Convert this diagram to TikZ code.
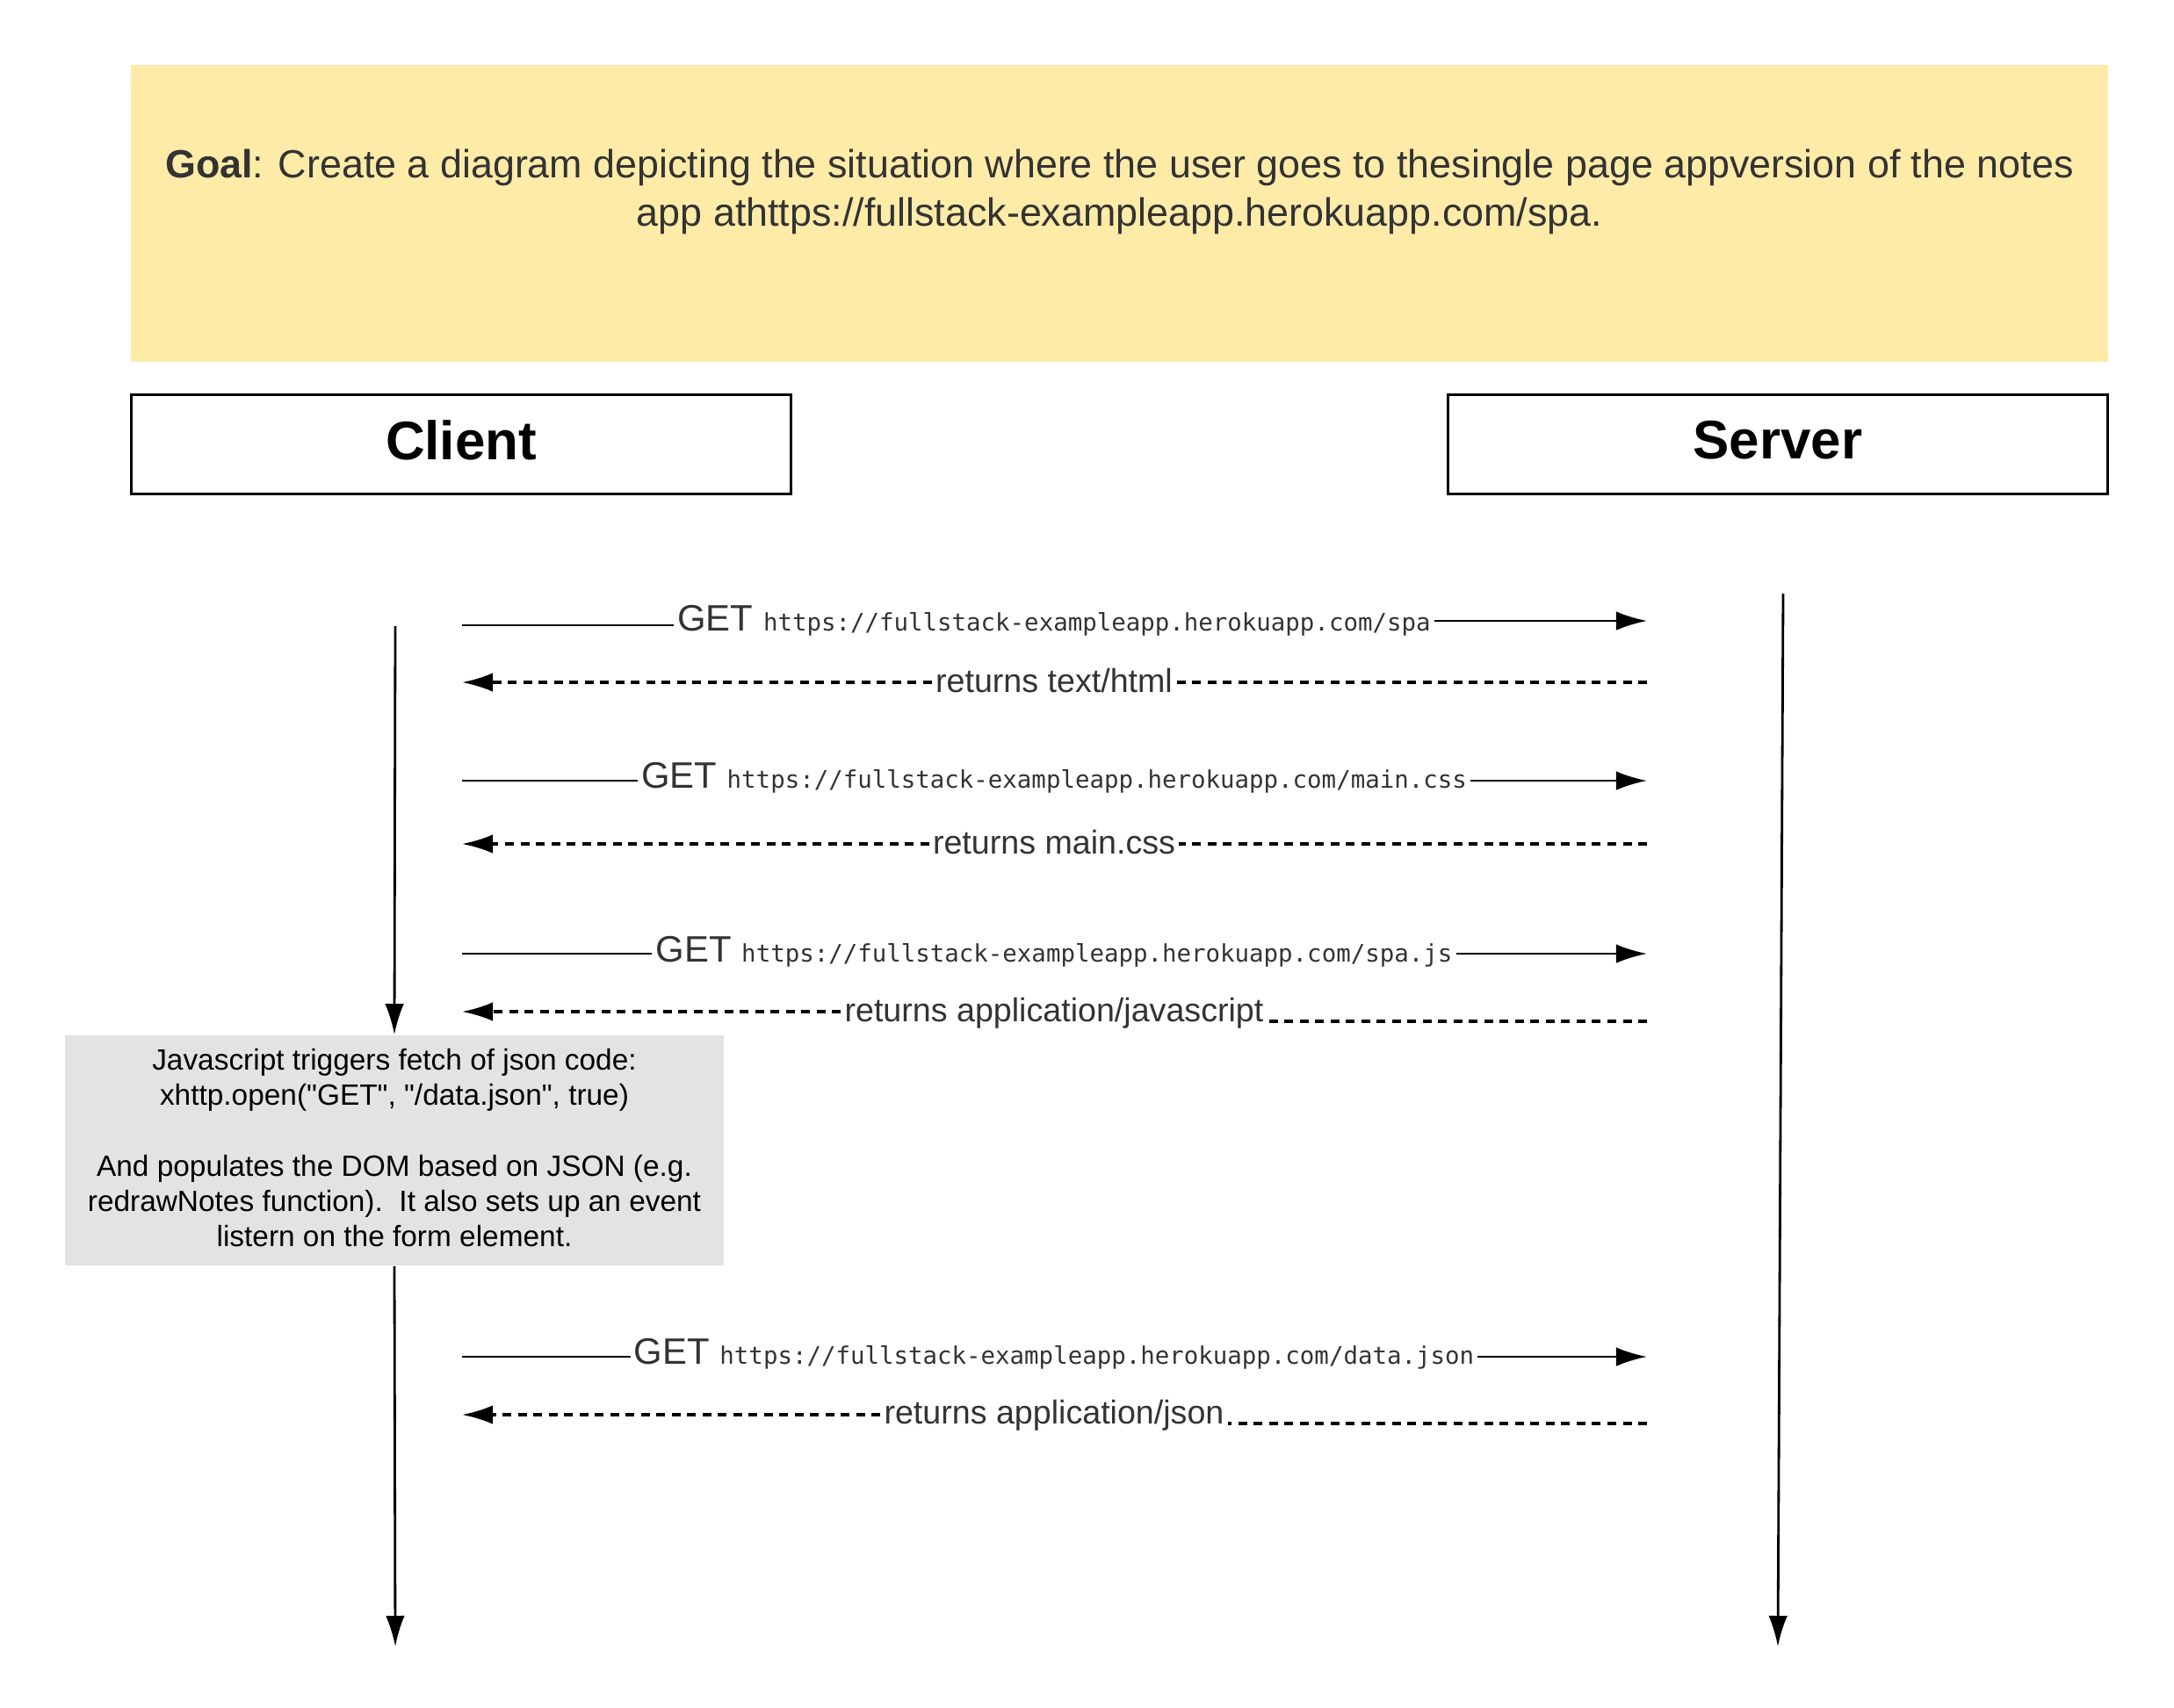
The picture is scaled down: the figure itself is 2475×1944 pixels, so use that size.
\documentclass[tikz,border=0pt]{standalone}
\usepackage{fontspec}
\setmainfont{Liberation Sans}
\newfontfamily\notefont{Liberation Sans}
\newfontfamily\urlfont{DejaVu Sans Mono}
\usetikzlibrary{arrows.meta}
\definecolor{goalyellow}{HTML}{FFEBA8}
\definecolor{notegray}{HTML}{E3E3E3}
\definecolor{txtgray}{HTML}{333333}
\newcommand{\myurl}[1]{{\urlfont\fontsize{7.8}{9}\selectfont #1}}
\begin{document}
\begin{tikzpicture}[x=0.01cm,y=-0.01cm,
  lane/.style={draw, line width=0.85pt, minimum width=7.5cm, minimum height=1.12cm, inner sep=0pt},
  lanetext/.style={inner sep=0pt, font=\fontsize{17.6}{20}\selectfont\bfseries},
  lbl/.style={text=txtgray, inner sep=1pt, font=\fontsize{11.9}{14}\selectfont},
  retlbl/.style={text=txtgray, inner sep=1pt, font=\fontsize{10.7}{13}\selectfont},
  req/.style={line width=0.8pt},
  ret/.style={line width=0.92pt, dash pattern=on 0.1cm off 0.075cm},
  headend/.style={-{Latex[length=0.35cm,width=0.215cm]}},
]
\useasboundingbox (0,0) rectangle (2475,1944);
\fill[white] (0,0) rectangle (2475,1944);

% goal box
\node[fill=goalyellow, minimum width=22.49cm, minimum height=3.38cm, inner sep=0pt] (goalbox) at (1274.5,243) {};
\node[text=txtgray, align=center, font=\fontsize{12.75}{15.6}\selectfont] (goal) at (1274.5,218)
  {\textbf{Goal}: Create a diagram depicting the situation where the user goes to thesingle page appversion of the notes\\ app athttps://fullstack-exampleapp.herokuapp.com/spa.};

% lanes
\node[lane] (client) at (525,506) {};
\node[lanetext] (clienttext) at (525,501) {Client};
\node[lane] (server) at (2024,506) {};
\node[lanetext] (servertext) at (2024,501) {Server};

% note
\node[fill=notegray, minimum width=7.5cm, minimum height=2.62cm, inner sep=0pt] (note) at (449,1310) {};
\node[inner sep=0pt, align=center, font=\notefont\fontsize{9.5}{11.4}\selectfont] (notetext) at (449,1307)
  {Javascript triggers fetch of json code:\\ xhttp.open("GET", "/data.json", true)\\ ~\\ And populates the DOM based on JSON (e.g.\\ redrawNotes function).\ \ It also sets up an event\\ listern on the form element.};

% lifelines
\coordinate (ctop) at (450,713);
\coordinate (cbot) at (450,1875);
\coordinate (stop) at (2030,676);
\coordinate (sbot) at (2024,1875);
\draw[req,headend] (ctop) -- (note.north);
\draw[req,headend] (note.south) -- (cbot);
\draw[req,headend] (stop) -- (sbot);

% message endpoints
\coordinate (a1) at (526,712);  \coordinate (b1) at (1875,707);
\coordinate (a2) at (526,777);  \coordinate (b2) at (1875,777);
\coordinate (a3) at (526,889);  \coordinate (b3) at (1875,889);
\coordinate (a4) at (526,961);  \coordinate (b4) at (1875,961);
\coordinate (a5) at (526,1086); \coordinate (b5) at (1875,1086);
\coordinate (a6) at (526,1152); \coordinate (b6) at (1875,1163);
\coordinate (a7) at (526,1545); \coordinate (b7) at (1875,1545);
\coordinate (a8) at (526,1611); \coordinate (b8) at (1875,1621);

% labels
\node[lbl] (m1) at (1200,707) {GET \myurl{https://fullstack-exampleapp.herokuapp.com/spa}};
\node[retlbl] (m2) at (1200,775) {returns text/html};
\node[lbl] (m3) at (1200,886) {GET \myurl{https://fullstack-exampleapp.herokuapp.com/main.css}};
\node[retlbl] (m4) at (1200,959) {returns main.css};
\node[lbl] (m5) at (1200,1084) {GET \myurl{https://fullstack-exampleapp.herokuapp.com/spa.js}};
\node[retlbl] (m6) at (1200,1154) {returns application/javascript};
\node[lbl] (m7) at (1200,1542) {GET \myurl{https://fullstack-exampleapp.herokuapp.com/data.json}};
\node[retlbl] (m8) at (1200,1612) {returns application/json};

% requests
\draw[req] (a1) -- (a1 -| m1.west);  \draw[req,headend] (m1.east |- b1) -- (b1);
\draw[req] (a3) -- (a3 -| m3.west);  \draw[req,headend] (m3.east |- b3) -- (b3);
\draw[req] (a5) -- (a5 -| m5.west);  \draw[req,headend] (m5.east |- b5) -- (b5);
\draw[req] (a7) -- (a7 -| m7.west);  \draw[req,headend] (m7.east |- b7) -- (b7);

% returns
\draw[ret] (b2) -- (b2 -| m2.east);  \draw[ret,headend] (m2.west |- a2) -- (a2);
\draw[ret] (b4) -- (b4 -| m4.east);  \draw[ret,headend] (m4.west |- a4) -- (a4);
\draw[ret] (b6) -- (b6 -| m6.east);  \draw[ret,headend] (m6.west |- a6) -- (a6);
\draw[ret] (b8) -- (b8 -| m8.east);  \draw[ret,headend] (m8.west |- a8) -- (a8);
\end{tikzpicture}
\end{document}
